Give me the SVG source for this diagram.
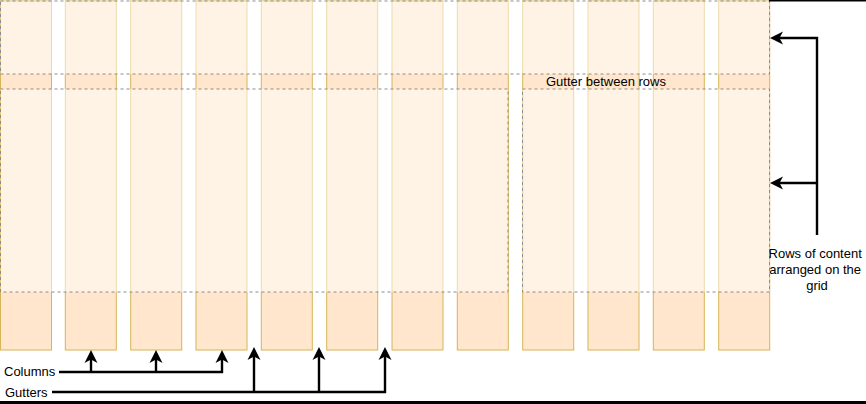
<svg xmlns="http://www.w3.org/2000/svg" width="866" height="404" viewBox="0 0 866 404">
<style>
.col{fill:#ffe6cc;stroke:#d6b656;stroke-width:1}
.row{fill:#ffffff;fill-opacity:0.5;stroke:#8c8c8c;stroke-width:1;stroke-dasharray:3 3}
.conn{fill:none;stroke:#000;stroke-width:2.4}
.lbl{font-family:"Liberation Sans",Arial,sans-serif;font-size:13px;fill:#000}
</style>
<defs>
<marker id="arr" viewBox="-10 -10 20 20" refX="0" refY="0" markerWidth="20" markerHeight="20" markerUnits="userSpaceOnUse" orient="auto">
<path d="M8,0 L-5,-6.5 L-1.5,0 L-5,6.5 Z" fill="#000"/>
</marker>
</defs>
<rect width="866" height="404" fill="#ffffff"/>
<g id="columns">
<rect id="col1" class="col" x="0.5" y="1" width="51" height="349"/>
<rect id="col2" class="col" x="65.3" y="1" width="51" height="349"/>
<rect id="col3" class="col" x="130.7" y="1" width="51" height="349"/>
<rect id="col4" class="col" x="196" y="1" width="51" height="349"/>
<rect id="col5" class="col" x="261.3" y="1" width="51" height="349"/>
<rect id="col6" class="col" x="326.7" y="1" width="51" height="349"/>
<rect id="col7" class="col" x="392" y="1" width="51" height="349"/>
<rect id="col8" class="col" x="457.3" y="1" width="51" height="349"/>
<rect id="col9" class="col" x="522.7" y="1" width="51" height="349"/>
<rect id="col10" class="col" x="588" y="1" width="51" height="349"/>
<rect id="col11" class="col" x="653.3" y="1" width="51" height="349"/>
<rect id="col12" class="col" x="718.7" y="1" width="51" height="349"/>
</g>
<g id="rows">
<rect id="row1" class="row" x="0.5" y="1" width="769" height="73"/>
<rect id="row2a" class="row" x="0.5" y="89" width="507.5" height="203"/>
<rect id="row2b" class="row" x="522.5" y="89" width="247" height="203"/>
</g>
<g id="connectors">
<path class="conn" d="M59,372 H222 V358" marker-end="url(#arr)"/>
<path class="conn" d="M91,372 V358" marker-end="url(#arr)"/>
<path class="conn" d="M156,372 V358" marker-end="url(#arr)"/>
<path class="conn" d="M52,392 H385 V355" marker-end="url(#arr)"/>
<path class="conn" d="M254,392 V355" marker-end="url(#arr)"/>
<path class="conn" d="M319,392 V355" marker-end="url(#arr)"/>
<path class="conn" d="M817,235 V38 H778" marker-end="url(#arr)"/>
<path class="conn" d="M817,183 H778" marker-end="url(#arr)"/>
</g>
<g id="labels">
<text id="lbl-gutter-rows" class="lbl" x="546" y="86">Gutter between rows</text>
<text id="lbl-columns" class="lbl" x="4" y="375.5">Columns</text>
<text id="lbl-gutters" class="lbl" x="5" y="397">Gutters</text>
<text id="lbl-rows" class="lbl" text-anchor="middle">
<tspan x="817" y="258">Rows of content</tspan>
<tspan x="817" y="274">arranged on the</tspan>
<tspan x="817" y="290">grid</tspan>
</text>
</g>
<g id="frame">
<rect x="769" y="0" width="97" height="1.5" fill="#000"/>
<rect x="0" y="401" width="866" height="3" fill="#000"/>
</g>
</svg>
